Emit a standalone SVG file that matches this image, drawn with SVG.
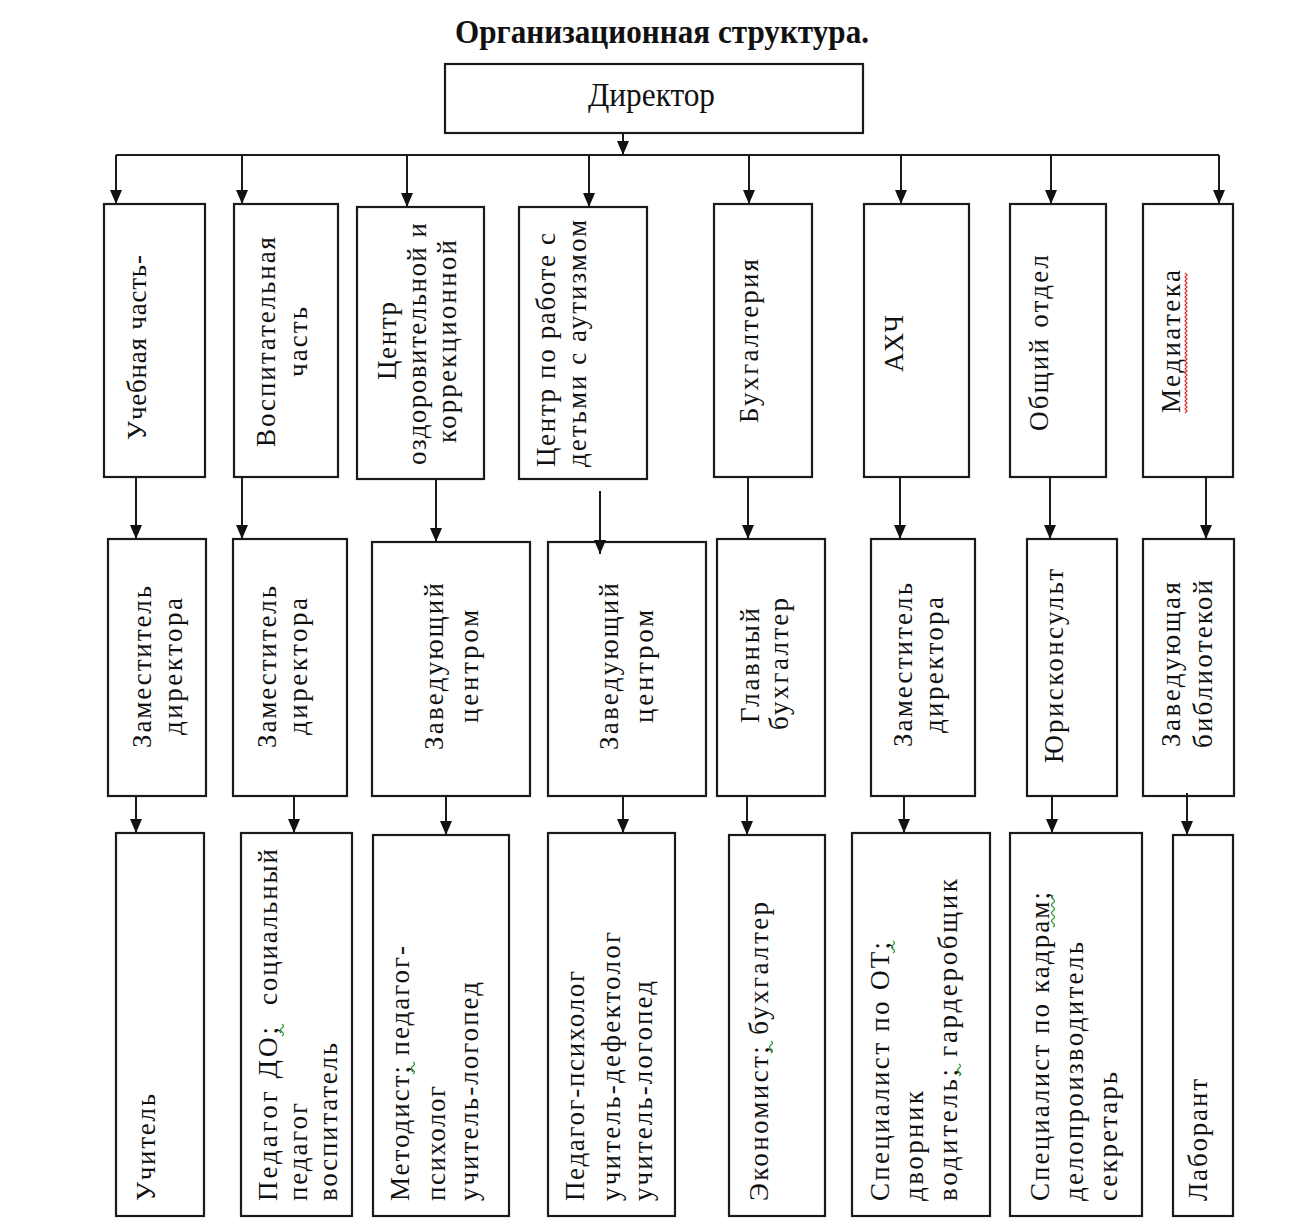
<svg xmlns="http://www.w3.org/2000/svg" width="1295" height="1228" viewBox="0 0 1295 1228">
<style>
.box{fill:#fff;stroke:#1a1a1a;stroke-width:2.2}
.t{font-family:'Liberation Serif','DejaVu Serif','Times New Roman',serif;font-size:27px;fill:#111}
.title{font-family:'Liberation Serif','DejaVu Serif','Times New Roman',serif;font-size:34px;font-weight:bold;fill:#111}
.c{fill:none;stroke:#1a1a1a;stroke-width:2}
.sq{fill:none;stroke:#2e9a2e;stroke-width:1.3}
</style>
<defs>
<marker id="ah" markerUnits="userSpaceOnUse" markerWidth="14" markerHeight="12" viewBox="0 0 14 12" refX="14" refY="6" orient="auto">
<path d="M0,0 L14,6 L0,12 z" fill="#111"/>
</marker>
</defs>
<rect width="1295" height="1228" fill="#fff"/>
<text class="title" x="455" y="43" textLength="414" lengthAdjust="spacingAndGlyphs">Организационная структура.</text>

<g id="director">
<rect class="box" x="445" y="64" width="418" height="69"/>
<text class="t" x="588" y="106" style="font-size:34px" textLength="127" lengthAdjust="spacingAndGlyphs">Директор</text>
</g>

<g id="uchebnaya">
<rect class="box" x="104" y="204" width="101" height="273"/>
<text class="t" transform="translate(146,440) rotate(-90)" textLength="185" lengthAdjust="spacing">Учебная часть-</text>
</g>
<g id="vospitatelnaya">
<rect class="box" x="234" y="204" width="104" height="273"/>
<text class="t" transform="translate(275,447) rotate(-90)" textLength="210" lengthAdjust="spacing">Воспитательная</text>
<text class="t" transform="translate(307,377) rotate(-90)" textLength="70" lengthAdjust="spacing">часть</text>
</g>
<g id="centr-ozd">
<rect class="box" x="357" y="207" width="127" height="272"/>
<text class="t" transform="translate(396,380) rotate(-90)" textLength="78" lengthAdjust="spacing">Центр</text>
<text class="t" transform="translate(426,465) rotate(-90)" textLength="242" lengthAdjust="spacing">оздоровительной и</text>
<text class="t" transform="translate(456,443) rotate(-90)" textLength="203" lengthAdjust="spacing">коррекционной</text>
</g>
<g id="centr-aut">
<rect class="box" x="519" y="207" width="128" height="272"/>
<text class="t" transform="translate(555,467) rotate(-90)" textLength="234" lengthAdjust="spacing">Центр по работе с</text>
<text class="t" transform="translate(586,467) rotate(-90)" textLength="247" lengthAdjust="spacing">детьми с аутизмом</text>
</g>
<g id="buh">
<rect class="box" x="714" y="204" width="98" height="273"/>
<text class="t" transform="translate(758,423) rotate(-90)" textLength="164" lengthAdjust="spacing">Бухгалтерия</text>
</g>
<g id="ahch">
<rect class="box" x="864" y="204" width="105" height="273"/>
<text class="t" transform="translate(903,372) rotate(-90)" textLength="57" lengthAdjust="spacing">АХЧ</text>
</g>
<g id="obshiy">
<rect class="box" x="1010" y="204" width="96" height="273"/>
<text class="t" transform="translate(1048,431) rotate(-90)" textLength="176" lengthAdjust="spacing">Общий отдел</text>
</g>
<g id="mediateka">
<rect class="box" x="1143" y="204" width="90" height="273"/>
<text class="t" transform="translate(1180,413) rotate(-90)" textLength="143" lengthAdjust="spacing">Медиатека</text>
<path d="M1185,413 l2,-2 -2,-2 2,-2 -2,-2 2,-2 -2,-2 2,-2 -2,-2 2,-2 -2,-2 2,-2 -2,-2 2,-2 -2,-2 2,-2 -2,-2 2,-2 -2,-2 2,-2 -2,-2 2,-2 -2,-2 2,-2 -2,-2 2,-2 -2,-2 2,-2 -2,-2 2,-2 -2,-2 2,-2 -2,-2 2,-2 -2,-2 2,-2 -2,-2 2,-2 -2,-2 2,-2 -2,-2 2,-2 -2,-2 2,-2 -2,-2 2,-2 -2,-2 2,-2 -2,-2 2,-2 -2,-2 2,-2 -2,-2 2,-2 -2,-2 2,-2 -2,-2 2,-2 -2,-2 2,-2 -2,-2 2,-2 -2,-2 2,-2 -2,-2 2,-2 -2,-2 2,-2 -2,-2 2,-2 -2,-2" fill="none" stroke="#e03030" stroke-width="1.2"/>
</g>

<g id="zam1">
<rect class="box" x="108" y="539" width="98" height="257"/>
<text class="t" transform="translate(151,748) rotate(-90)" textLength="162" lengthAdjust="spacing">Заместитель</text>
<text class="t" transform="translate(182,735) rotate(-90)" textLength="137" lengthAdjust="spacing">директора</text>
</g>
<g id="zam2">
<rect class="box" x="233" y="539" width="114" height="257"/>
<text class="t" transform="translate(276,748) rotate(-90)" textLength="162" lengthAdjust="spacing">Заместитель</text>
<text class="t" transform="translate(307,735) rotate(-90)" textLength="137" lengthAdjust="spacing">директора</text>
</g>
<g id="zav1">
<rect class="box" x="372" y="542" width="158" height="254"/>
<text class="t" transform="translate(443,750) rotate(-90)" textLength="167" lengthAdjust="spacing">Заведующий</text>
<text class="t" transform="translate(478,723) rotate(-90)" textLength="113" lengthAdjust="spacing">центром</text>
</g>
<g id="zav2">
<rect class="box" x="548" y="542" width="158" height="254"/>
<text class="t" transform="translate(618,750) rotate(-90)" textLength="167" lengthAdjust="spacing">Заведующий</text>
<text class="t" transform="translate(653,723) rotate(-90)" textLength="113" lengthAdjust="spacing">центром</text>
</g>
<g id="glavbuh">
<rect class="box" x="717" y="539" width="108" height="257"/>
<text class="t" transform="translate(759,723) rotate(-90)" textLength="115" lengthAdjust="spacing">Главный</text>
<text class="t" transform="translate(788,730) rotate(-90)" textLength="132" lengthAdjust="spacing">бухгалтер</text>
</g>
<g id="zam3">
<rect class="box" x="871" y="539" width="104" height="257"/>
<text class="t" transform="translate(912,747) rotate(-90)" textLength="164" lengthAdjust="spacing">Заместитель</text>
<text class="t" transform="translate(943,733) rotate(-90)" textLength="136" lengthAdjust="spacing">директора</text>
</g>
<g id="yurist">
<rect class="box" x="1027" y="539" width="90" height="257"/>
<text class="t" transform="translate(1063,763) rotate(-90)" textLength="194" lengthAdjust="spacing">Юрисконсульт</text>
</g>
<g id="zavbib">
<rect class="box" x="1143" y="539" width="91" height="257"/>
<text class="t" transform="translate(1180,747) rotate(-90)" textLength="165" lengthAdjust="spacing">Заведующая</text>
<text class="t" transform="translate(1212,748) rotate(-90)" textLength="168" lengthAdjust="spacing">библиотекой</text>
</g>

<g id="uchitel">
<rect class="box" x="116" y="833" width="88" height="383"/>
<text class="t" transform="translate(155,1201) rotate(-90)" textLength="107" lengthAdjust="spacing">Учитель</text>
</g>
<g id="pedagogi">
<rect class="box" x="241" y="833" width="111" height="383"/>
<text class="t" transform="translate(277,1201) rotate(-90)"><tspan textLength="174" lengthAdjust="spacing">Педагог ДО;</tspan><tspan x="196" textLength="156" lengthAdjust="spacing">социальный</tspan></text>
<text class="t" transform="translate(307,1201) rotate(-90)" textLength="98" lengthAdjust="spacing">педагог</text>
<text class="t" transform="translate(337,1201) rotate(-90)" textLength="158" lengthAdjust="spacing">воспитатель</text>
<path class="sq" d="M282,1036 q3,-2 0,-4 q-3,-2 0,-4 q3,-2 0,-4"/>
</g>
<g id="metodist">
<rect class="box" x="373" y="835" width="136" height="381"/>
<text class="t" transform="translate(409,1201) rotate(-90)" textLength="255" lengthAdjust="spacing">Методист; педагог-</text>
<text class="t" transform="translate(445,1201) rotate(-90)" textLength="115" lengthAdjust="spacing">психолог</text>
<text class="t" transform="translate(478,1201) rotate(-90)" textLength="219" lengthAdjust="spacing">учитель-логопед</text>
<path class="sq" d="M413,1074 q3,-2 0,-4 q-3,-2 0,-4 q3,-2 0,-4"/>
</g>
<g id="psiholog">
<rect class="box" x="548" y="833" width="127" height="383"/>
<text class="t" transform="translate(584,1201) rotate(-90)" textLength="230" lengthAdjust="spacing">Педагог-психолог</text>
<text class="t" transform="translate(620,1201) rotate(-90)" textLength="269" lengthAdjust="spacing">учитель-дефектолог</text>
<text class="t" transform="translate(652,1201) rotate(-90)" textLength="220" lengthAdjust="spacing">учитель-логопед</text>
</g>
<g id="ekonomist">
<rect class="box" x="729" y="835" width="96" height="381"/>
<text class="t" transform="translate(768,1201) rotate(-90)" textLength="299" lengthAdjust="spacing">Экономист; бухгалтер</text>
<path class="sq" d="M771,1053 q3,-2 0,-4 q-3,-2 0,-4 q3,-2 0,-4"/>
</g>
<g id="specOT">
<rect class="box" x="852" y="833" width="138" height="383"/>
<text class="t" transform="translate(889,1201) rotate(-90)" textLength="259" lengthAdjust="spacing">Специалист по ОТ;</text>
<text class="t" transform="translate(923,1201) rotate(-90)" textLength="110" lengthAdjust="spacing">дворник</text>
<text class="t" transform="translate(957,1201) rotate(-90)" textLength="322" lengthAdjust="spacing">водитель;  гардеробщик</text>
<path class="sq" d="M893,953 q3,-2 0,-4 q-3,-2 0,-4 q3,-2 0,-4"/>
<path class="sq" d="M959,1076 q3,-2 0,-4 q-3,-2 0,-4 q3,-2 0,-4"/>
</g>
<g id="specKadry">
<rect class="box" x="1010" y="833" width="132" height="383"/>
<text class="t" transform="translate(1049,1201) rotate(-90)" textLength="309" lengthAdjust="spacing">Специалист по кадрам;</text>
<text class="t" transform="translate(1083,1201) rotate(-90)" textLength="259" lengthAdjust="spacing">делопроизводитель</text>
<text class="t" transform="translate(1117,1201) rotate(-90)" textLength="129" lengthAdjust="spacing">секретарь</text>
<path class="sq" d="M1053,927 q3,-2 0,-4 q-3,-2 0,-4 q3,-2 0,-4 q-3,-2 0,-4 q3,-2 0,-4 q-3,-2 0,-4 q3,-2 0,-4 q-3,-2 0,-4"/>
</g>
<g id="laborant">
<rect class="box" x="1173" y="835" width="60" height="381"/>
<text class="t" transform="translate(1207,1201) rotate(-90)" textLength="122" lengthAdjust="spacing">Лаборант</text>
</g>

<g id="connectors">
<path class="c" d="M623,133 V155" marker-end="url(#ah)"/>
<path class="c" d="M116,155 H1219"/>
<path class="c" d="M116,155 V204" marker-end="url(#ah)"/>
<path class="c" d="M242,155 V204" marker-end="url(#ah)"/>
<path class="c" d="M407,155 V207" marker-end="url(#ah)"/>
<path class="c" d="M589,155 V207" marker-end="url(#ah)"/>
<path class="c" d="M749,155 V204" marker-end="url(#ah)"/>
<path class="c" d="M901,155 V204" marker-end="url(#ah)"/>
<path class="c" d="M1051,155 V204" marker-end="url(#ah)"/>
<path class="c" d="M1219,155 V204" marker-end="url(#ah)"/>
<path class="c" d="M136,477 V539" marker-end="url(#ah)"/>
<path class="c" d="M242,477 V539" marker-end="url(#ah)"/>
<path class="c" d="M436,479 V542" marker-end="url(#ah)"/>
<path class="c" d="M600,491 V554" marker-end="url(#ah)"/>
<path class="c" d="M748,477 V539" marker-end="url(#ah)"/>
<path class="c" d="M900,477 V539" marker-end="url(#ah)"/>
<path class="c" d="M1050,477 V539" marker-end="url(#ah)"/>
<path class="c" d="M1206,477 V539" marker-end="url(#ah)"/>
<path class="c" d="M136,796 V833" marker-end="url(#ah)"/>
<path class="c" d="M294,796 V833" marker-end="url(#ah)"/>
<path class="c" d="M446,796 V835" marker-end="url(#ah)"/>
<path class="c" d="M623,796 V833" marker-end="url(#ah)"/>
<path class="c" d="M747,796 V835" marker-end="url(#ah)"/>
<path class="c" d="M904,796 V833" marker-end="url(#ah)"/>
<path class="c" d="M1052,796 V833" marker-end="url(#ah)"/>
<path class="c" d="M1187,793 V835" marker-end="url(#ah)"/>
</g>
</svg>
